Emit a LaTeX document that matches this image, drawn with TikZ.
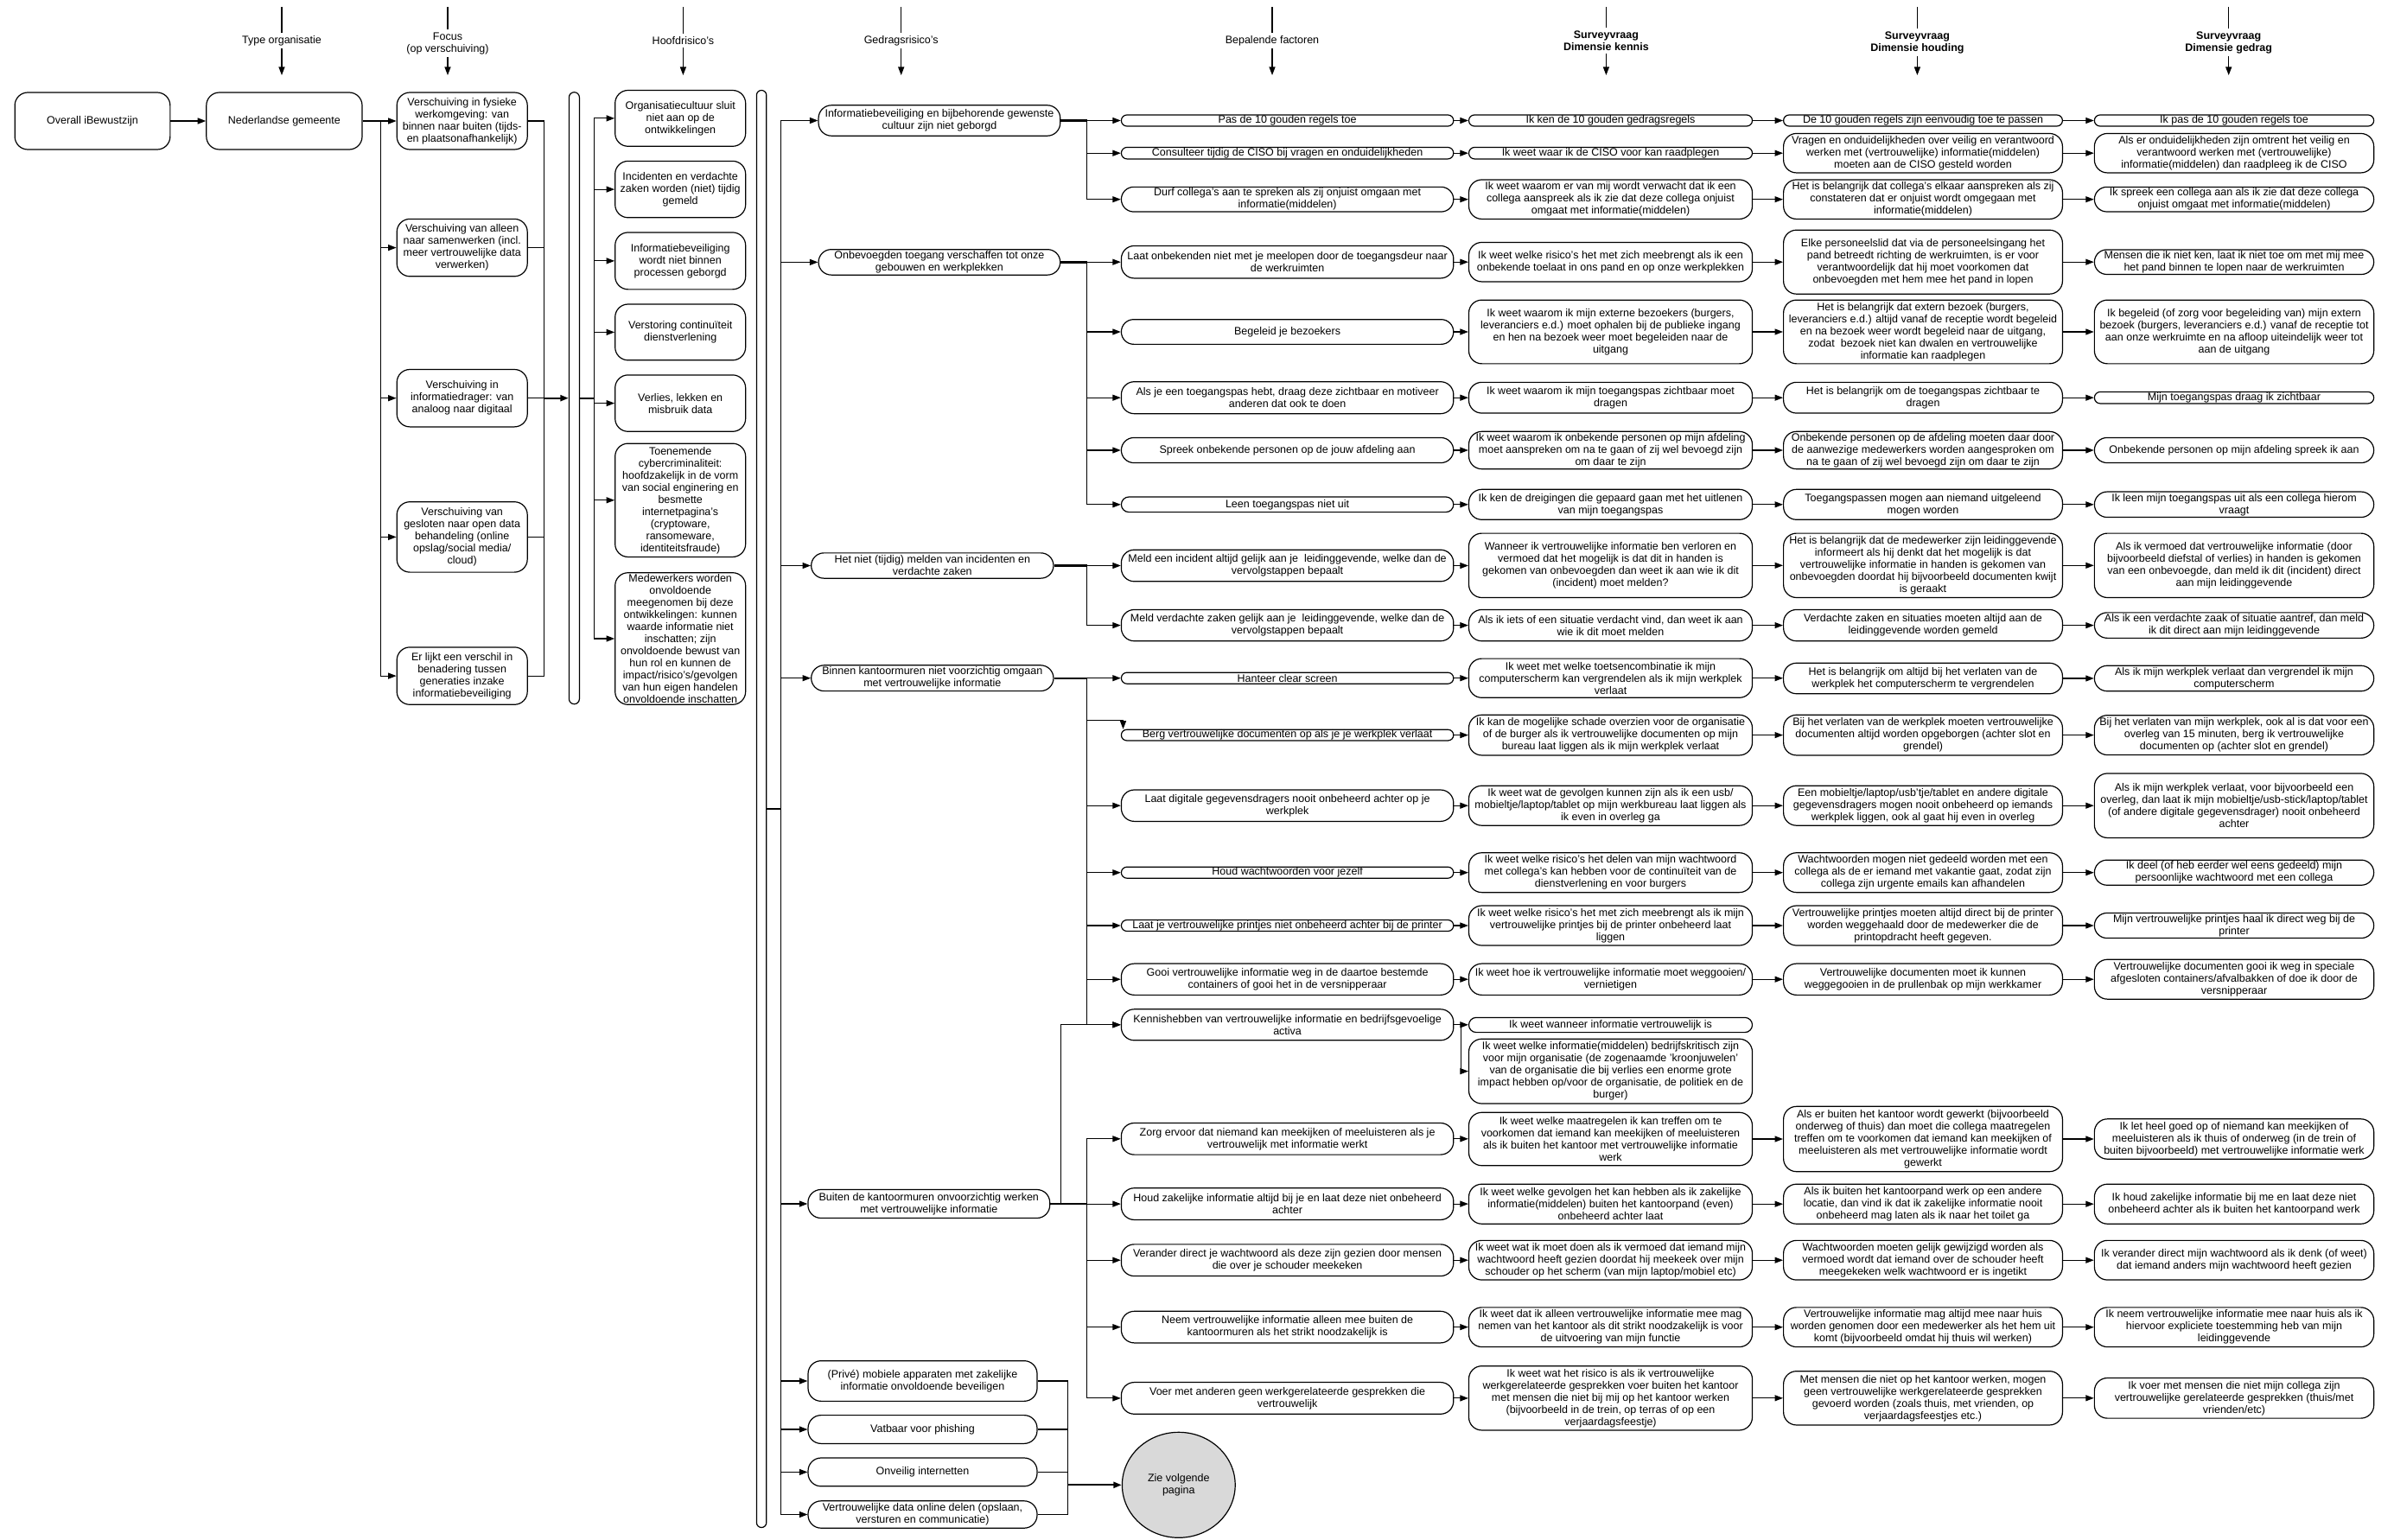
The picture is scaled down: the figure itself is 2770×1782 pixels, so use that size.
\documentclass[tikz,border=0pt]{standalone}
\usepackage{fontspec}
\setmainfont{Liberation Sans}
\usetikzlibrary{arrows.meta,shapes.geometric}

% rounded box: [options]{name}{cx,cy}{width}{height}{text}
\newcommand\bx[6][]{%
  \pgfmathsetmacro\br{min(#5/2,15)}%
  \node[box,rounded corners=\br pt,minimum width=#4pt,minimum height=#5pt,#1] (#2) at (#3) {#6};}

% column heading with a line above and an arrow below: {name}{x}{y}{style}{text}
\newcommand\hdr[5]{%
  \node[#4] (#1) at (#2,#3) {#5};
  \coordinate (#1top) at (#2,8);
  \coordinate (#1tip) at (#2,87);
  \draw[link] (#1top) -- (#1.north);
  \draw[arr] (#1.south) -- (#1tip);}

\begin{document}
\begin{tikzpicture}[x=1pt,y=-1pt,
  box/.style={draw,line width=1.2pt,fill=white,align=center,inner xsep=2pt,inner ysep=0.5pt,
    font=\fontsize{12.5}{14}\selectfont},
  bar/.style={draw,line width=1.2pt,fill=white,inner sep=0pt},
  link/.style={line width=1.1pt},
  arr/.style={line width=1.1pt,-{Triangle[length=9.5pt,width=7pt]}},
  stem/.style={line width=2.2pt},
  head/.style={align=center,inner sep=3pt,font=\fontsize{12.5}{14}\selectfont},
  shead/.style={align=center,inner sep=3pt,font=\fontsize{12.5}{14}\selectfont\bfseries}]

\fill[white] (0,0) rectangle (2770,1782);
\useasboundingbox (0,0) rectangle (2770,1782);

% ---------- column headings ----------
\hdr{hType}{326}{47}{head}{Type organisatie}
\hdr{hFocus}{518}{50}{head}{Focus\\(op verschuiving)}
\hdr{hHoofd}{790.4}{47}{head}{Hoofdrisico's}
\hdr{hGedr}{1042.7}{47}{head}{Gedragsrisico's}
\hdr{hBep}{1472}{47}{head}{Bepalende factoren}
\hdr{hKen}{1858.4}{47}{shead}{Surveyvraag\\Dimensie kennis}
\hdr{hHoud}{2218.4}{49}{shead}{Surveyvraag\\Dimensie houding}
\hdr{hGedrag}{2578.7}{49}{shead}{Surveyvraag\\Dimensie gedrag}

% ---------- left part ----------
\bx{overall}{107,140}{179.7}{66}{Overall iBewustzijn}
\bx{gem}{328.9,140}{180.2}{66}{Nederlandse gemeente}

\bx{f1}{534.7,140}{151}{66}{Verschuiving in fysieke\\werkomgeving: van\\binnen naar buiten (tijds-\\en plaatsonafhankelijk)}
\bx{f2}{534.7,286.6}{151}{66.4}{Verschuiving van alleen\\naar samenwerken (incl.\\meer vertrouwelijke data\\verwerken)}
\bx{f3}{534.7,460.7}{151}{66.4}{Verschuiving in\\informatiedrager: van\\analoog naar digitaal}
\bx{f4}{534.7,621.4}{151}{81.4}{Verschuiving van\\gesloten naar open data\\behandeling (online\\opslag/social media/\\cloud)}
\bx{f5}{534.7,782.1}{151}{66.4}{Er lijkt een verschil in\\benadering tussen\\generaties inzake\\informatiebeveiliging}

\node[bar,rounded corners=6pt,minimum width=12pt,minimum height=708pt] (bar1) at (664.4,460.7) {};

\bx{h1}{787.2,136.9}{151}{64.8}{Organisatiecultuur sluit\\niet aan op de\\ontwikkelingen}
\bx{h2}{787.2,219.1}{151}{65.4}{Incidenten en verdachte\\zaken worden (niet) tijdig\\gemeld}
\bx{h3}{787.2,301.9}{151}{65.9}{Informatiebeveiliging\\wordt niet binnen\\processen geborgd}
\bx{h4}{787.2,384.4}{151}{64.8}{Verstoring continuïteit\\dienstverlening}
\bx{h5}{787.2,466.6}{151}{65.4}{Verlies, lekken en\\misbruik data}
\bx{h6}{787.2,578.8}{151}{131.3}{Toenemende\\cybercriminaliteit:\\hoofdzakelijk in de vorm\\van social enginering en\\besmette\\internetpagina's\\(cryptoware,\\ransomeware,\\identiteitsfraude)}
\bx{h7}{787.2,739}{151}{152.6}{Medewerkers worden\\onvoldoende\\meegenomen bij deze\\ontwikkelingen: kunnen\\waarde informatie niet\\inschatten; zijn\\onvoldoende bewust van\\hun rol en kunnen de\\impact/risico's/gevolgen\\van hun eigen handelen\\onvoldoende inschatten}

\node[bar,rounded corners=5.7pt,minimum width=11.4pt,minimum height=1663pt] (bar2) at (881.1,936) {};

% ---------- behavioural risks ----------
\bx{g1}{1086.9,139.5}{279.7}{35.4}{Informatiebeveiliging en bijbehorende gewenste\\cultuur zijn niet geborgd}
\bx{g2}{1086.9,303.4}{279.7}{29.5}{Onbevoegden toegang verschaffen tot onze\\gebouwen en werkplekken}
\bx{g3}{1078.8,654.5}{280.3}{29.3}{Het niet (tijdig) melden van incidenten en\\verdachte zaken}
\bx{g4}{1078.8,784.7}{280.3}{29.8}{Binnen kantoormuren niet voorzichtig omgaan\\met vertrouwelijke informatie}
\bx{g5}{1074.8,1393}{279.8}{33}{Buiten de kantoormuren onvoorzichtig werken\\met vertrouwelijke informatie}
\bx{g6}{1067.5,1598}{265}{46.7}{(Privé) mobiele apparaten met zakelijke\\informatie onvoldoende beveiligen}
\bx{g7}{1067.5,1654}{265}{32.8}{Vatbaar voor phishing}
\bx{g8}{1067.5,1703.4}{265}{32.8}{Onveilig internetten}
\bx{g9}{1067.5,1752.5}{265}{31.4}{Vertrouwelijke data online delen (opslaan,\\versturen en communicatie)}

\node[ellipse,draw,line width=1.2pt,fill=black!15,align=center,inner sep=0pt,
  minimum width=130.8pt,minimum height=122pt,font=\fontsize{12.5}{14}\selectfont]
  (zie) at (1363.8,1718.3) {Zie volgende\\pagina};

% ---------- determining factors ----------
\bx{b1}{1489.6,139.5}{384.4}{13}{Pas de 10 gouden regels toe}
\bx{b2}{1489.6,177.2}{384.4}{13.5}{Consulteer tijdig de CISO bij vragen en onduidelijkheden}
\bx{b3}{1489.6,230.7}{384.4}{28.7}{Durf collega's aan te spreken als zij onjuist omgaan met\\informatie(middelen)}
\bx{b4}{1489.6,303.2}{384.4}{37.5}{Laat onbekenden niet met je meelopen door de toegangsdeur naar\\de werkruimten}
\bx{b5}{1489.6,384}{384.4}{28.7}{Begeleid je bezoekers}
\bx{b6}{1489.6,460.2}{384.4}{37}{Als je een toegangspas hebt, draag deze zichtbaar en motiveer\\anderen dat ook te doen}
\bx{b7}{1489.6,521}{384.4}{29.1}{Spreek onbekende personen op de jouw afdeling aan}
\bx{b8}{1489.6,583.8}{384.4}{17.6}{Leen toegangspas niet uit}
\bx{b9}{1489.6,654.5}{384.4}{36.6}{Meld een incident altijd gelijk aan je~ leidinggevende, welke dan de\\vervolgstappen bepaalt}
\bx{b10}{1489.6,723.6}{384.4}{36.3}{Meld verdachte zaken gelijk aan je~ leidinggevende, welke dan de\\vervolgstappen bepaalt}
\bx{b11}{1489.6,784.7}{384.4}{13}{Hanteer clear screen}
\bx{b12}{1489.6,850.6}{384.4}{12.6}{Berg vertrouwelijke documenten op als je je werkplek verlaat}
\bx{b13}{1489.6,932.2}{384.4}{36.4}{Laat digitale gegevensdragers nooit onbeheerd achter op je\\werkplek}
\bx{b14}{1489.6,1009.7}{384.4}{13}{Houd wachtwoorden voor jezelf}
\bx{b15}{1489.6,1071}{384.4}{13}{Laat je vertrouwelijke printjes niet onbeheerd achter bij de printer}
\bx{b16}{1489.6,1133.2}{384.4}{36.3}{Gooi vertrouwelijke informatie weg in de daartoe bestemde\\containers of gooi het in de versnipperaar}
\bx{b17}{1489.6,1185.8}{384.4}{36}{Kennishebben van vertrouwelijke informatie en bedrijfsgevoelige\\activa}
\bx{b18}{1489.6,1317.8}{384.4}{36.6}{Zorg ervoor dat niemand kan meekijken of meeluisteren als je\\vertrouwelijk met informatie werkt}
\bx{b19}{1489.6,1393.1}{384.4}{36.7}{Houd zakelijke informatie altijd bij je en laat deze niet onbeheerd\\achter}
\bx{b20}{1489.6,1458.2}{384.4}{36.7}{Verander direct je wachtwoord als deze zijn gezien door mensen\\die over je schouder meekeken}
\bx{b21}{1489.6,1535.6}{384.4}{36.6}{Neem vertrouwelijke informatie alleen mee buiten de\\kantoormuren als het strikt noodzakelijk is}
\bx{b22}{1489.6,1617.9}{384.4}{36.7}{Voer met anderen geen werkgerelateerde gesprekken die\\vertrouwelijk}

% ---------- survey: knowledge ----------
\bx{k1}{1863.5,139.5}{328}{13}{Ik ken de 10 gouden gedragsregels}
\bx{k2}{1863.5,177.2}{328}{13.5}{Ik weet waar ik de CISO voor kan raadplegen}
\bx{k3}{1863.5,230.7}{328}{45.5}{Ik weet waarom er van mij wordt verwacht dat ik een\\collega aanspreek als ik zie dat deze collega onjuist\\omgaat met informatie(middelen)}
\bx{k4}{1863.5,303.2}{328}{45.5}{Ik weet welke risico's het met zich meebrengt als ik een\\onbekende toelaat in ons pand en op onze werkplekken}
\bx{k5}{1863.5,384}{328}{73.7}{Ik weet waarom ik mijn externe bezoekers (burgers,\\leveranciers e.d.) moet ophalen bij de publieke ingang\\en hen na bezoek weer moet begeleiden naar de\\uitgang}
\bx{k6}{1863.5,460.2}{328}{35.7}{Ik weet waarom ik mijn toegangspas zichtbaar moet\\dragen}
\bx{k7}{1863.5,521}{328}{43.4}{Ik weet waarom ik onbekende personen op mijn afdeling\\moet aanspreken om na te gaan of zij wel bevoegd zijn\\om daar te zijn}
\bx{k8}{1863.5,583.8}{328}{35}{Ik ken de dreigingen die gepaard gaan met het uitlenen\\van mijn toegangspas}
\bx{k9}{1863.5,654.3}{328}{74.4}{Wanneer ik vertrouwelijke informatie ben verloren en\\vermoed dat het mogelijk is dat dit in handen is\\gekomen van onbevoegden dan weet ik aan wie ik dit\\(incident) moet melden?}
\bx{k10}{1863.5,723.6}{328}{36.3}{Als ik iets of een situatie verdacht vind, dan weet ik aan\\wie ik dit moet melden}
\bx{k11}{1863.5,784.7}{328}{45.2}{Ik weet met welke toetsencombinatie ik mijn\\computerscherm kan vergrendelen als ik mijn werkplek\\verlaat}
\bx{k12}{1863.5,850.6}{328}{46.7}{Ik kan de mogelijke schade overzien voor de organisatie\\of de burger als ik vertrouwelijke documenten op mijn\\bureau laat liggen als ik mijn werkplek verlaat}
\bx{k13}{1863.5,932.2}{328}{46}{Ik weet wat de gevolgen kunnen zijn als ik een usb/\\mobieltje/laptop/tablet op mijn werkbureau laat liggen als\\ik even in overleg ga}
\bx{k14}{1863.5,1009.7}{328}{45.9}{Ik weet welke risico's het delen van mijn wachtwoord\\met collega's kan hebben voor de continuïteit van de\\dienstverlening en voor burgers}
\bx{k15}{1863.5,1071}{328}{46}{Ik weet welke risico's het met zich meebrengt als ik mijn\\vertrouwelijke printjes bij de printer onbeheerd laat\\liggen}
\bx{k16}{1863.5,1133.2}{328}{36.3}{Ik weet hoe ik vertrouwelijke informatie moet weggooien/\\vernietigen}
\bx{k17}{1863.5,1186}{328}{17.2}{Ik weet wanneer informatie vertrouwelijk is}
\bx{k18}{1863.5,1239.6}{328}{74.8}{Ik weet welke informatie(middelen) bedrijfskritisch zijn\\voor mijn organisatie (de zogenaamde 'kroonjuwelen'\\van de organisatie die bij verlies een enorme grote\\impact hebben op/voor de organisatie, de politiek en de\\burger)}
\bx{k19}{1863.5,1318}{328}{61.5}{Ik weet welke maatregelen ik kan treffen om te\\voorkomen dat iemand kan meekijken of meeluisteren\\als ik buiten het kantoor met vertrouwelijke informatie\\werk}
\bx{k20}{1863.5,1393.2}{328}{46}{Ik weet welke gevolgen het kan hebben als ik zakelijke\\informatie(middelen) buiten het kantoorpand (even)\\onbeheerd achter laat}
\bx{k21}{1863.5,1458.2}{328}{45.7}{Ik weet wat ik moet doen als ik vermoed dat iemand mijn\\wachtwoord heeft gezien doordat hij meekeek over mijn\\schouder op het scherm (van mijn laptop/mobiel etc)}
\bx{k22}{1863.5,1535.7}{328}{45.7}{Ik weet dat ik alleen vertrouwelijke informatie mee mag\\nemen van het kantoor als dit strikt noodzakelijk is voor\\de uitvoering van mijn functie}
\bx{k23}{1863.5,1617.8}{328}{74.3}{Ik weet wat het risico is als ik vertrouwelijke\\werkgerelateerde gesprekken voer buiten het kantoor\\met mensen die niet bij mij op het kantoor werken\\(bijvoorbeeld in de trein, op terras of op een\\verjaardagsfeestje)}

% ---------- survey: attitude ----------
\bx{d1}{2225,139.5}{322.8}{13}{De 10 gouden regels zijn eenvoudig toe te passen}
\bx{d2}{2225,177.2}{322.8}{45.5}{Vragen en onduidelijkheden over veilig en verantwoord\\werken met (vertrouwelijke) informatie(middelen)\\moeten aan de CISO gesteld worden}
\bx{d3}{2225,230.7}{322.8}{45.5}{Het is belangrijk dat collega's elkaar aanspreken als zij\\constateren dat er onjuist wordt omgegaan met\\informatie(middelen)}
\bx{d4}{2225,303.2}{322.8}{74}{Elke personeelslid dat via de personeelsingang het\\pand betreedt richting de werkruimten, is er voor\\verantwoordelijk dat hij moet voorkomen dat\\onbevoegden met hem mee het pand in lopen}
\bx{d5}{2225,384}{322.8}{73.7}{Het is belangrijk dat extern bezoek (burgers,\\leveranciers e.d.) altijd vanaf de receptie wordt begeleid\\en na bezoek weer wordt begeleid naar de uitgang,\\zodat~ bezoek niet kan dwalen en vertrouwelijke\\informatie kan raadplegen}
\bx{d6}{2225,460.2}{322.8}{35.7}{Het is belangrijk om de toegangspas zichtbaar te\\dragen}
\bx{d7}{2225,521}{322.8}{43.4}{Onbekende personen op de afdeling moeten daar door\\de aanwezige medewerkers worden aangesproken om\\na te gaan of zij wel bevoegd zijn om daar te zijn}
\bx{d8}{2225,583.8}{322.8}{35}{Toegangspassen mogen aan niemand uitgeleend\\mogen worden}
\bx{d9}{2225,654.3}{322.8}{74.4}{Het is belangrijk dat de medewerker zijn leidinggevende\\informeert als hij denkt dat het mogelijk is dat\\vertrouwelijke informatie in handen is gekomen van\\onbevoegden doordat hij bijvoorbeeld documenten kwijt\\is geraakt}
\bx{d10}{2225,723.6}{322.8}{36.3}{Verdachte zaken en situaties moeten altijd aan de\\leidinggevende worden gemeld}
\bx{d11}{2225,785}{322.8}{35.5}{Het is belangrijk om altijd bij het verlaten van de\\werkplek het computerscherm te vergrendelen}
\bx{d12}{2225,850.6}{322.8}{46.7}{Bij het verlaten van de werkplek moeten vertrouwelijke\\documenten altijd worden opgeborgen (achter slot en\\grendel)}
\bx{d13}{2225,932.2}{322.8}{46}{Een mobieltje/laptop/usb'tje/tablet en andere digitale\\gegevensdragers mogen nooit onbeheerd op iemands\\werkplek liggen, ook al gaat hij even in overleg}
\bx{d14}{2225,1009.7}{322.8}{45.9}{Wachtwoorden mogen niet gedeeld worden met een\\collega als de er iemand met vakantie gaat, zodat zijn\\collega zijn urgente emails kan afhandelen}
\bx{d15}{2225,1071}{322.8}{46}{Vertrouwelijke printjes moeten altijd direct bij de printer\\worden weggehaald door de medewerker die de\\printopdracht heeft gegeven.}
\bx{d16}{2225,1133.2}{322.8}{36.3}{Vertrouwelijke documenten moet ik kunnen\\weggegooien in de prullenbak op mijn werkkamer}
\bx{d19}{2225,1318}{322.8}{75.4}{Als er buiten het kantoor wordt gewerkt (bijvoorbeeld\\onderweg of thuis) dan moet die collega maatregelen\\treffen om te voorkomen dat iemand kan meekijken of\\meeluisteren als met vertrouwelijke informatie wordt\\gewerkt}
\bx{d20}{2225,1393.2}{322.8}{46}{Als ik buiten het kantoorpand werk op een andere\\locatie, dan vind ik dat ik zakelijke informatie nooit\\onbeheerd mag laten als ik naar het toilet ga}
\bx{d21}{2225,1458.2}{322.8}{45.7}{Wachtwoorden moeten gelijk gewijzigd worden als\\vermoed wordt dat iemand over de schouder heeft\\meegekeken welk wachtwoord er is ingetikt}
\bx{d22}{2225,1535.7}{322.8}{45.7}{Vertrouwelijke informatie mag altijd mee naar huis\\worden genomen door een medewerker als het hem uit\\komt (bijvoorbeeld omdat hij thuis wil werken)}
\bx{d23}{2225,1617.8}{322.8}{62.3}{Met mensen die niet op het kantoor werken, mogen\\geen vertrouwelijke werkgerelateerde gesprekken\\gevoerd worden (zoals thuis, met vrienden, op\\verjaardagsfeestjes etc.)}

% ---------- survey: behaviour ----------
\bx{e1}{2585,139.5}{323.3}{13}{Ik pas de 10 gouden regels toe}
\bx{e2}{2585,177.2}{323.3}{45.5}{Als er onduidelijkheden zijn omtrent het veilig en\\verantwoord werken met (vertrouwelijke)\\informatie(middelen) dan raadpleeg ik de CISO}
\bx{e3}{2585,230.7}{323.3}{28.6}{Ik spreek een collega aan als ik zie dat deze collega\\onjuist omgaat met informatie(middelen)}
\bx{e4}{2585,303.2}{323.3}{28.6}{Mensen die ik niet ken, laat ik niet toe om met mij mee\\het pand binnen te lopen naar de werkruimten}
\bx{e5}{2585,384}{323.3}{73.7}{Ik begeleid (of zorg voor begeleiding van) mijn extern\\bezoek (burgers, leveranciers e.d.) vanaf de receptie tot\\aan onze werkruimte en na afloop uiteindelijk weer tot\\aan de uitgang}
\bx{e6}{2585,460.2}{323.3}{13.5}{Mijn toegangspas draag ik zichtbaar}
\bx{e7}{2585,521}{323.3}{29.1}{Onbekende personen op mijn afdeling spreek ik aan}
\bx{e8}{2585,583.8}{323.3}{29.5}{Ik leen mijn toegangspas uit als een collega hierom\\vraagt}
\bx{e9}{2585,654.3}{323.3}{74.4}{Als ik vermoed dat vertrouwelijke informatie (door\\bijvoorbeeld diefstal of verlies) in handen is gekomen\\van een onbevoegde, dan meld ik dit (incident) direct\\aan mijn leidinggevende}
\bx{e10}{2585,723.6}{323.3}{29.5}{Als ik een verdachte zaak of situatie aantref, dan meld\\ik dit direct aan mijn leidinggevende}
\bx{e11}{2585,785}{323.3}{29.5}{Als ik mijn werkplek verlaat dan vergrendel ik mijn\\computerscherm}
\bx{e12}{2585,850.6}{323.3}{45.9}{Bij het verlaten van mijn werkplek, ook al is dat voor een\\overleg van 15 minuten, berg ik vertrouwelijke\\documenten op (achter slot en grendel)}
\bx{e13}{2585,932.2}{323.3}{74.5}{Als ik mijn werkplek verlaat, voor bijvoorbeeld een\\overleg, dan laat ik mijn mobieltje/usb-stick/laptop/tablet\\(of andere digitale gegevensdrager) nooit onbeheerd\\achter}
\bx{e14}{2585,1009.7}{323.3}{29.1}{Ik deel (of heb eerder wel eens gedeeld) mijn\\persoonlijke wachtwoord met een collega}
\bx{e15}{2585,1071}{323.3}{29.1}{Mijn vertrouwelijke printjes haal ik direct weg bij de\\printer}
\bx{e16}{2585,1133.2}{323.3}{45.9}{Vertrouwelijke documenten gooi ik weg in speciale\\afgesloten containers/afvalbakken of doe ik door de\\versnipperaar}
\bx{e19}{2585,1318}{323.3}{46.4}{Ik let heel goed op of niemand kan meekijken of\\meeluisteren als ik thuis of onderweg (in de trein of\\buiten bijvoorbeeld) met vertrouwelijke informatie werk}
\bx{e20}{2585,1393.2}{323.3}{46}{Ik houd zakelijke informatie bij me en laat deze niet\\onbeheerd achter als ik buiten het kantoorpand werk}
\bx{e21}{2585,1458.2}{323.3}{45.7}{Ik verander direct mijn wachtwoord als ik denk (of weet)\\dat iemand anders mijn wachtwoord heeft gezien}
\bx{e22}{2585,1535.7}{323.3}{45.7}{Ik neem vertrouwelijke informatie mee naar huis als ik\\hiervoor expliciete toestemming heb van mijn\\leidinggevende}
\bx{e23}{2585,1617.8}{323.3}{46.6}{Ik voer met mensen die niet mijn collega zijn\\vertrouwelijke gerelateerde gesprekken (thuis/met\\vrienden/etc)}

% ---------- junction points ----------
\coordinate (jN) at (440.8,140);
\coordinate (jF) at (629.7,460.7);
\coordinate (jH) at (687.7,460.7);
\coordinate (jG) at (903.5,936);
\coordinate (t1) at (1257.6,139.5);
\coordinate (t2) at (1257.6,303.4);
\coordinate (t3) at (1257.6,654.5);
\coordinate (t4) at (1257.6,784.7);
\coordinate (t5) at (1257.6,1393);
\coordinate (up5) at (1227.8,1393);
\coordinate (bergIn) at (1299.5,833.7);
\coordinate (jz) at (1235.6,1718.3);
\coordinate (jk) at (1690.5,1185.8);

% ---------- connectors: left part ----------
\draw[arr] (overall) -- (gem);
\draw[stem] (gem.east) -- (jN);
\draw[arr] (jN) -- (f1.west);
\foreach \i in {2,3,4,5} \draw[arr] (jN) |- (f\i.west);
\foreach \i in {1,2,3,4,5} \draw[link] (f\i.east) -| (jF);
\draw[arr,stem] (jF) -- (bar1.west);
\draw[stem] (bar1.east) -- (jH);
\foreach \i in {1,...,7} \draw[arr] (jH) |- (h\i.west);
\draw[stem] (bar2.east) -- (jG);
\foreach \i in {1,...,9} \draw[arr] (jG) |- (g\i.west);

% ---------- connectors: behavioural risks to factors ----------
\draw[stem] (g1.east) -- (t1);
\foreach \i in {1,2,3} \draw[arr] (t1) |- (b\i.west);
\draw[stem] (g2.east) -- (t2);
\foreach \i in {4,...,8} \draw[arr] (t2) |- (b\i.west);
\draw[stem] (g3.east) -- (t3);
\foreach \i in {9,10} \draw[arr] (t3) |- (b\i.west);
\draw[stem] (g4.east) -- (t4);
\foreach \i in {11,13,14,15,16,17} \draw[arr] (t4) |- (b\i.west);
\draw[arr] (t4) |- (bergIn) -- (bergIn |- b12.north);
\draw[stem] (g5.east) -- (t5);
\foreach \i in {18,...,22} \draw[arr] (t5) |- (b\i.west);
\draw[arr] (g5.east) -- (up5) |- (b17.west);
\foreach \i in {6,7,8,9} \draw[link] (g\i.east) -| (jz);
\draw[arr,stem] (jz) -- (zie.west);

% ---------- connectors: factors to survey questions ----------
\foreach \b/\k in {1/1,2/2,3/3,4/4,5/5,6/6,7/7,8/8,9/9,10/10,11/11,12/12,13/13,14/14,15/15,16/16,17/17,18/19,19/20,20/21,21/22,22/23}
  \draw[arr] (b\b.east) -- (b\b.east -| k\k.west);
\draw[arr] (b17.east) -- (jk) |- (k18.west);
\foreach \k in {1,2,3,4,5,6,7,8,9,10,11,12,13,14,15,16,19,20,21,22,23} {
  \draw[arr] (k\k.east) -- (k\k.east -| d\k.west);
  \draw[arr] (d\k.east) -- (d\k.east -| e\k.west);
}
\end{tikzpicture}
\end{document}
